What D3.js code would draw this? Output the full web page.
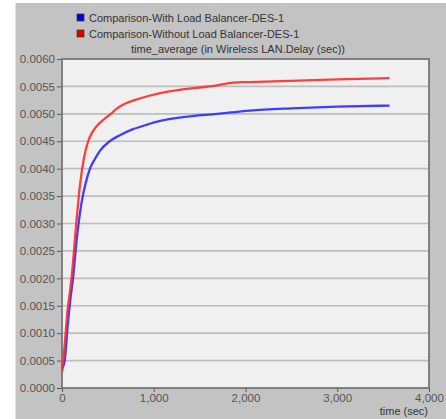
<!DOCTYPE html>
<html><head><meta charset="utf-8">
<script src="https://cdn.jsdelivr.net/npm/d3@7"></script>
<style>body{margin:0;background:#fff}svg{display:block}</style>
</head><body>
<svg id="c" width="446" height="419"></svg>
<script>
const seriesNames = ["Comparison-With Load Balancer-DES-1", "Comparison-Without Load Balancer-DES-1"];
const seriesColors = ["#2a2aff", "#ff2a2a"];
const legendColors = ["#0000e0", "#e00000"];
const titleText = "time_average (in Wireless LAN.Delay (sec))";
const xLabel = "time (sec)";
const yTicks = [0,0.0005,0.001,0.0015,0.002,0.0025,0.003,0.0035,0.004,0.0045,0.005,0.0055,0.006];
const xTicks = [0,1000,2000,3000,4000];
const blueT = [5,30,60,90,120,160,215,260,305,360,415,520,630,775,920,1070,1320,1690,2050,2500,3000,3570];
const blueV = [0.00036,0.0005,0.0011,0.0016,0.0020,0.0027,0.0034,0.00375,0.0040,0.00418,0.00433,0.0045,0.00461,0.00472,0.0048,0.00487,0.00494,0.0050,0.00506,0.0051,0.00513,0.00515];
const redT = [2,30,60,90,110,150,196,240,285,340,415,480,540,600,680,775,950,1140,1500,1690,1865,2050,2500,3000,3570];
const redV = [0.0003,0.0008,0.0014,0.0018,0.0021,0.0029,0.0037,0.0042,0.0045,0.00469,0.00484,0.00493,0.00501,0.0051,0.00518,0.00524,0.00533,0.0054,0.00548,0.00552,0.00557,0.00558,0.0056,0.00563,0.00565];

const svg = d3.select("#c");
const m = {l:62, r:429, t:59, b:388};
const x = d3.scaleLinear().domain([0,4000]).range([m.l, m.r]);
const y = d3.scaleLinear().domain([0,0.006]).range([m.b, m.t]);
const font = "Liberation Sans, Arial, sans-serif";

svg.append("rect").attr("x",15).attr("y",3).attr("width",431).attr("height",416).attr("fill","#c3c3c3");
svg.append("line").attr("x1",15.5).attr("x2",15.5).attr("y1",3).attr("y2",419).attr("stroke","#e0e0e0");
svg.append("rect").attr("x",m.l).attr("y",m.t).attr("width",m.r-m.l).attr("height",m.b-m.t).attr("fill","#f0f0f0");

// gridlines
svg.append("g").selectAll("line").data(yTicks.slice(1,-1)).join("line")
  .attr("x1",m.l).attr("x2",m.r).attr("y1",d=>y(d)).attr("y2",d=>y(d))
  .attr("stroke","#bdbdbd").attr("stroke-width",1.6);

// axes
const ya = svg.append("g").attr("transform",`translate(${m.l},0)`)
  .call(d3.axisLeft(y).tickValues(yTicks).tickFormat(d3.format(".4f")).tickSize(5).tickPadding(2));
ya.select(".domain").remove();
ya.selectAll("line").attr("stroke","#555");
ya.selectAll("text").attr("font-family",font).attr("font-size",11.5).attr("fill","#555");

const xa = svg.append("g").attr("transform",`translate(0,${m.b})`)
  .call(d3.axisBottom(x).tickValues(xTicks).tickFormat(d3.format(",")).tickSize(4).tickPadding(2));
xa.select(".domain").remove();
xa.selectAll("line").attr("stroke","#555");
xa.selectAll("text").attr("font-family",font).attr("font-size",11.5).attr("fill","#555");

// frame
svg.append("rect").attr("x",m.l).attr("y",m.t).attr("width",m.r-m.l).attr("height",m.b-m.t)
  .attr("fill","none").attr("stroke","#777").attr("stroke-width",1.8);

// lines
const data = [blueT.map((t,i)=>[t,blueV[i]]), redT.map((t,i)=>[t,redV[i]])];
const line = d3.line().x(d=>x(d[0])).y(d=>y(d[1])).curve(d3.curveMonotoneX);
svg.append("g").selectAll("path").data(data).join("path")
  .attr("d",line).attr("fill","none").attr("stroke",(d,i)=>seriesColors[i]).attr("stroke-width",2.3)
  .attr("stroke-opacity",0.9);

// legend
const lg = svg.append("g").selectAll("g").data(seriesNames).join("g")
  .attr("transform",(d,i)=>`translate(77,${14+i*16})`);
lg.append("rect").attr("width",7).attr("height",7).attr("fill",(d,i)=>legendColors[i]).attr("stroke","#333").attr("stroke-width",0.7);
lg.append("text").attr("x",12).attr("y",7.5).text(d=>d).attr("font-family",font).attr("font-size",11).attr("fill","#333");

svg.append("text").attr("x",238).attr("y",53).attr("text-anchor","middle").text(titleText)
  .attr("font-family",font).attr("font-size",11).attr("fill","#333");
svg.append("text").attr("x",428).attr("y",415).attr("text-anchor","end").text(xLabel)
  .attr("font-family",font).attr("font-size",11).attr("fill","#333");
</script>
</body></html>
